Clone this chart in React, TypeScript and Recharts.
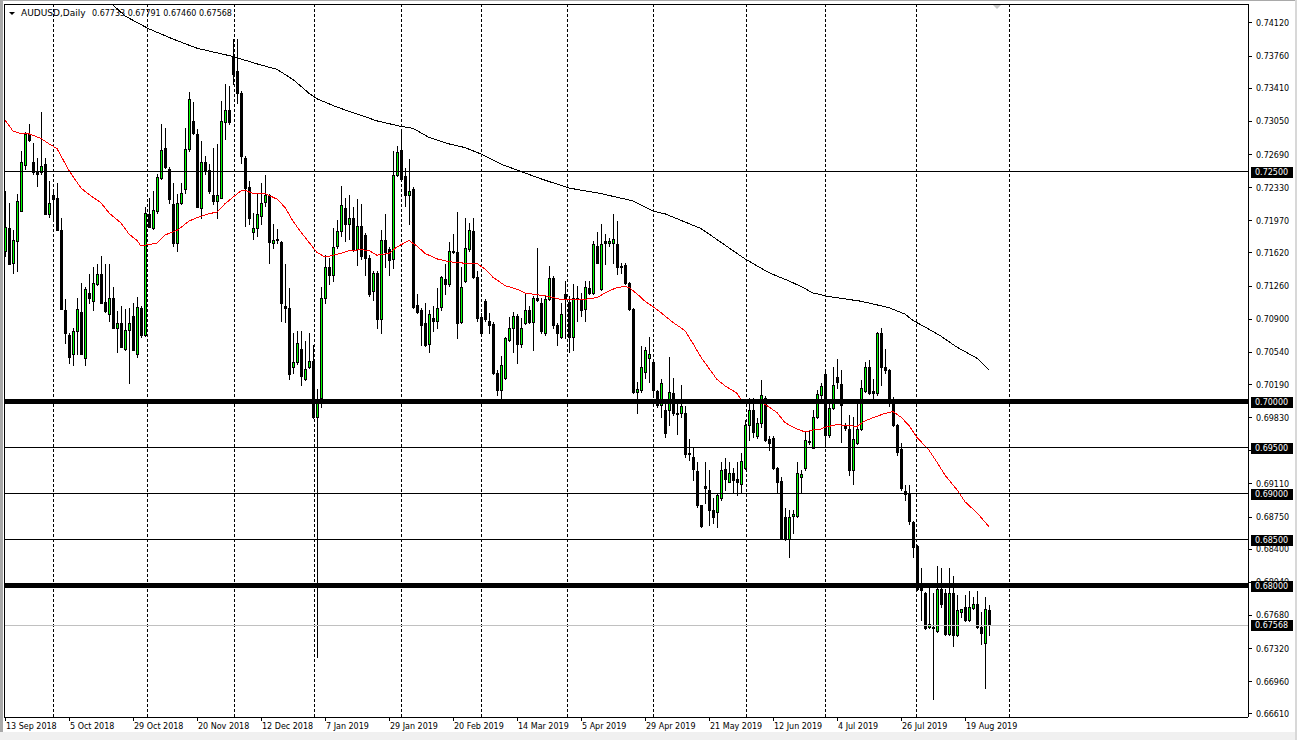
import React from 'react';
import { ComposedChart, Bar, Line, XAxis, YAxis, ReferenceLine } from 'recharts';

// ---- daily OHLC, AUDUSD, 13 Sep 2018 .. 27 Aug 2019 (index 0..246) ----
const opens = [
  .7164,.7189,.7151,.7175,.7207,.7257,.7291,.7260,.7249,.7249,
  .7258,.7204,.7224,.7221,.7186,.7099,.7072,.7052,.7077,.7097,
  .7047,.7118,.7109,.7128,.7139,.7108,.7095,.7112,.7080,.7085,
  .7057,.7078,.7093,.7052,.7102,.7072,.7204,.7189,.7207,.7243,
  .7276,.7253,.7215,.7172,.7216,.7231,.7275,.7305,.7291,.7210,
  .7260,.7252,.7224,.7218,.7221,.7304,.7317,.7376,.7359,.7335,
  .7265,.7233,.7184,.7189,.7202,.7217,.7224,.7172,.7177,.7173,
  .7104,.7102,.7037,.7043,.7057,.7025,.7037,.7044,.6983,.7004,
  .7112,.7146,.7137,.7169,.7185,.7210,.7193,.7200,.7166,.7191,
  .7181,.7156,.7120,.7140,.7090,.7176,.7166,.7155,.7246,.7273,
  .7245,.7225,.7231,.7105,.7100,.7085,.7063,.7091,.7088,.7103,
  .7133,.7128,.7164,.7162,.7086,.7131,.7166,.7185,.7135,.7092,
  .7109,.7087,.7084,.7031,.7013,.7026,.7067,.7080,.7093,.7063,
  .7085,.7100,.7086,.7113,.7107,.7075,.7111,.7134,.7083,.7070,
  .7117,.7108,.7070,.7112,.7110,.7101,.7123,.7118,.7169,.7122,
  .7174,.7172,.7172,.7171,.7147,.7148,.7129,.7101,.7010,.7012,
  .7032,.7047,.7043,.7011,.6996,.6991,.6991,.7009,.6987,.6987,
  .6987,.6944,.6940,.6925,.6887,.6908,.6904,.6882,.6880,.6895,
  .6927,.6913,.6922,.6916,.6910,.6928,.6974,.6991,.6963,.6977,
  .7004,.6959,.6960,.6928,.6914,.6875,.6851,.6876,.6876,.6918,
  .6928,.6957,.6950,.6983,.7007,.7030,.6964,.6993,.7027,.7019,
  .6973,.6970,.6926,.6955,.6970,.7011,.7037,.7011,.7009,.7075,
  .7037,.7034,.6998,.6975,.6948,.6903,.6900,.6869,.6843,.6803,
  .6792,.6755,.6755,.6751,.6796,.6792,.6747,.6792,.6746,.6771,
  .6777,.6763,.6776,.6780,.6755,.6737,.67733,
];
const highs = [
  .7229,.7216,.7186,.7226,.7272,.7293,.7302,.7281,.7265,.7315,
  .7265,.7240,.7231,.7237,.7200,.7111,.7074,.7080,.7112,.7129,
  .7124,.7139,.7146,.7150,.7158,.7150,.7150,.7124,.7098,.7104,
  .7101,.7102,.7107,.7114,.7104,.7211,.7221,.7229,.7247,.7302,
  .7297,.7255,.7237,.7226,.7237,.7297,.7336,.7326,.7296,.7283,
  .7267,.7258,.7276,.7280,.7327,.7345,.7343,.7394,.7394,.7337,
  .7267,.7240,.7205,.7226,.7238,.7246,.7226,.7193,.7188,.7175,
  .7150,.7123,.7074,.7077,.7077,.7066,.7074,.7061,.7014,.7124,
  .7159,.7156,.7189,.7197,.7234,.7221,.7224,.7211,.7220,.7215,
  .7183,.7159,.7142,.7142,.7186,.7204,.7168,.7272,.7278,.7294,
  .7254,.7264,.7233,.7117,.7102,.7107,.7099,.7104,.7123,.7136,
  .7150,.7173,.7182,.7206,.7146,.7200,.7194,.7199,.7142,.7096,
  .7111,.7096,.7086,.7034,.7050,.7070,.7092,.7097,.7095,.7091,
  .7118,.7104,.7115,.7167,.7113,.7115,.7147,.7136,.7085,.7107,
  .7131,.7115,.7128,.7126,.7118,.7131,.7131,.7174,.7184,.7193,
  .7182,.7178,.7204,.7196,.7151,.7151,.7130,.7102,.7021,.7060,
  .7059,.7070,.7045,.7012,.7024,.7001,.7048,.7026,.6998,.7018,
  .6995,.6959,.6949,.6934,.6888,.6934,.6926,.6895,.6901,.6934,
  .6939,.6934,.6928,.6934,.6944,.6980,.7004,.7004,.6982,.7023,
  .7006,.6963,.6963,.6929,.6918,.6884,.6882,.6882,.6934,.6926,
  .6967,.6969,.6991,.7012,.7020,.7034,.7001,.7037,.7046,.7034,
  .6977,.6985,.6983,.6998,.7023,.7043,.7045,.7024,.7076,.7080,
  .7057,.7035,.7005,.6976,.6955,.6909,.6909,.6870,.6844,.6819,
  .6793,.6799,.6792,.6821,.6819,.6796,.6819,.6810,.6790,.6775,
  .6790,.6794,.6787,.6794,.6771,.6788,.67791,
];
const lows = [
  .7158,.7150,.7140,.7142,.7207,.7253,.7283,.7247,.7234,.7247,
  .7204,.7201,.7200,.7186,.7101,.7064,.7042,.7040,.7052,.7052,
  .7040,.7107,.7099,.7127,.7107,.7097,.7088,.7080,.7054,.7059,
  .7056,.7020,.7056,.7048,.7070,.7071,.7190,.7188,.7205,.7242,
  .7254,.7216,.7169,.7164,.7215,.7227,.7272,.7291,.7211,.7199,
  .7247,.7227,.7215,.7199,.7221,.7285,.7302,.7345,.7324,.7259,
  .7191,.7193,.7177,.7180,.7193,.7213,.7151,.7167,.7172,.7088,
  .7086,.7025,.7031,.7041,.7018,.7023,.7036,.6982,.6722,.6994,
  .7107,.7128,.7131,.7167,.7180,.7175,.7177,.7164,.7148,.7155,
  .7137,.7115,.7110,.7080,.7075,.7146,.7137,.7145,.7245,.7242,
  .7213,.7193,.7102,.7096,.7061,.7060,.7054,.7077,.7080,.7099,
  .7117,.7126,.7161,.7069,.7085,.7130,.7164,.7134,.7088,.7073,
  .7088,.7074,.7030,.7007,.7004,.7025,.7066,.7054,.7042,.7059,
  .7084,.7085,.7056,.7109,.7075,.7072,.7110,.7080,.7061,.7069,
  .7069,.7054,.7056,.7088,.7093,.7087,.7117,.7117,.7151,.7121,
  .7150,.7169,.7151,.7139,.7140,.7128,.7100,.7009,.6987,.7010,
  .7026,.7021,.7005,.6994,.6983,.6961,.6974,.6985,.6965,.6983,
  .6940,.6936,.6915,.6885,.6864,.6890,.6866,.6868,.6864,.6893,
  .6904,.6912,.6902,.6898,.6901,.6927,.6958,.6961,.6960,.6972,
  .6957,.6947,.6927,.6901,.6851,.6850,.6831,.6857,.6875,.6902,
  .6926,.6954,.6949,.6982,.7001,.6953,.6961,.6992,.7015,.6956,
  .6969,.6920,.6910,.6954,.6969,.7010,.7008,.7004,.7007,.7018,
  .7031,.6995,.6973,.6942,.6904,.6893,.6867,.6831,.6795,.6762,
  .6753,.6754,.6677,.6750,.6777,.6746,.6746,.6734,.6745,.6766,
  .6761,.6761,.6774,.6754,.6736,.6689,.67460,
];
const closes = [
  .7190,.7150,.7176,.7218,.7260,.7291,.7284,.7249,.7247,.7256,
  .7204,.7216,.7220,.7186,.7101,.7074,.7048,.7077,.7101,.7052,
  .7122,.7112,.7129,.7139,.7107,.7098,.7113,.7080,.7085,.7059,
  .7078,.7085,.7056,.7103,.7072,.7205,.7190,.7208,.7244,.7273,
  .7255,.7220,.7172,.7216,.7227,.7275,.7329,.7292,.7211,.7260,
  .7251,.7229,.7218,.7224,.7305,.7317,.7304,.7356,.7335,.7267,
  .7232,.7199,.7189,.7204,.7216,.7224,.7173,.7176,.7176,.7107,
  .7102,.7030,.7043,.7064,.7028,.7035,.7044,.6983,.7003,.7112,
  .7146,.7137,.7168,.7185,.7214,.7193,.7200,.7166,.7191,.7158,
  .7156,.7117,.7140,.7090,.7176,.7163,.7154,.7246,.7271,.7242,
  .7225,.7229,.7103,.7097,.7083,.7061,.7095,.7087,.7102,.7135,
  .7128,.7164,.7163,.7085,.7124,.7167,.7186,.7135,.7091,.7074,
  .7090,.7083,.7031,.7013,.7040,.7069,.7080,.7093,.7062,.7080,
  .7099,.7086,.7113,.7110,.7077,.7111,.7134,.7083,.7074,.7095,
  .7111,.7070,.7112,.7111,.7100,.7124,.7118,.7171,.7151,.7171,
  .7172,.7174,.7177,.7146,.7146,.7129,.7101,.7010,.7014,.7038,
  .7056,.7052,.7012,.6996,.7020,.6966,.7010,.6987,.6986,.6995,
  .6943,.6943,.6927,.6888,.6865,.6906,.6882,.6875,.6898,.6926,
  .6916,.6922,.6915,.6912,.6935,.6975,.6991,.6967,.6977,.7007,
  .6958,.6955,.6928,.6913,.6852,.6851,.6875,.6878,.6922,.6921,
  .6958,.6956,.6983,.7008,.7017,.6964,.6993,.7018,.7021,.6996,
  .6971,.6926,.6959,.6970,.7015,.7037,.7009,.7009,.7075,.7037,
  .7034,.6999,.6974,.6945,.6906,.6900,.6870,.6842,.6796,.6795,
  .6754,.6758,.6754,.6796,.6780,.6747,.6792,.6746,.6773,.6774,
  .6762,.6777,.6780,.6755,.6748,.6775,.67568,
];

// ---- moving averages: [bar index, value] ----
const ma50Points: [number, number][] = [
  [0,.7306],[2,.7294],[4,.7291],[6,.7291],[9,.7286],[11,.7280],[13,.7275],[14,.7267],[16,.7251],
  [19,.7232],[21,.7225],[24,.7216],[26,.7205],[29,.7194],[31,.7182],[33,.7175],[34,.7169],[35,.7170],
  [38,.7172],[40,.7181],[43,.7186],[46,.7196],[48,.7200],[51,.7204],[53,.7206],[55,.7215],[57,.7222],
  [59,.7229],[60,.7230],[62,.7226],[65,.7226],[68,.7220],[70,.7211],[72,.7196],[74,.7184],[76,.7173],
  [78,.7162],[80,.7157],[82,.7159],[84,.7161],[86,.7164],[89,.7165],[91,.7164],[93,.7159],[96,.7161],
  [98,.7168],[101,.7175],[103,.7169],[105,.7161],[108,.7155],[111,.7152],[113,.7151],[116,.7150],
  [118,.7150],[120,.7144],[122,.7135],[124,.7129],[125,.7126],[128,.7122],[130,.7118],[133,.7116],
  [135,.7115],[137,.7113],[139,.7111],[145,.7111],[148,.7113],[150,.7118],[153,.7124],[155,.7125],
  [156,.7124],[158,.7117],[160,.7109],[163,.7100],[165,.7093],[167,.7086],[170,.7077],[172,.7063],
  [174,.7048],[176,.7036],[178,.7024],[180,.7017],[183,.7009],[184,.7002],[186,.6999],[189,.6998],
  [190,.6997],[193,.6988],[195,.6977],[198,.6970],[200,.6967],[202,.6969],[204,.6970],[205,.6972],
  [208,.6975],[210,.6974],[213,.6973],[215,.6979],[218,.6984],[220,.6987],[222,.6989],[224,.6983],
  [226,.6974],[228,.6961],[231,.6947],[233,.6934],[235,.6920],[238,.6904],[240,.6891],[243,.6879],
  [246,.6864],
];
const ma200Points: [number, number][] = [
  [25,.7439],[27,.7431],[30,.7419],[36,.7405],[42,.7394],[48,.7384],[57,.7375],[63,.7367],[68,.7361],
  [72,.7350],[76,.7335],[78,.7329],[83,.7320],[93,.7305],[99,.7299],[102,.7297],[106,.7287],[111,.7280],
  [115,.7276],[119,.7269],[124,.7258],[134,.7242],[141,.7232],[149,.7226],[157,.7218],[162,.7207],
  [165,.7204],[174,.7188],[185,.7155],[191,.7140],[196,.7131],[199,.7125],[202,.7118],[206,.7114],
  [214,.7109],[221,.7102],[225,.7095],[227,.7088],[230,.7081],[234,.7071],[238,.7059],[243,.7047],
  [246,.7034],
];

// ---- axes / annotations ----
const dateTickIdx = [0,16,32,48,64,80,96,112,128,144,160,176,192,208,224,240];
const dateTickLabels = [
  '13 Sep 2018','5 Oct 2018','29 Oct 2018','20 Nov 2018','12 Dec 2018','7 Jan 2019',
  '29 Jan 2019','20 Feb 2019','14 Mar 2019','5 Apr 2019','29 Apr 2019','21 May 2019',
  '12 Jun 2019','4 Jul 2019','26 Jul 2019','19 Aug 2019',
];
const priceTicks = [
  0.7412,0.7376,0.7341,0.7305,0.7269,0.7233,0.7197,0.7162,0.7126,0.7090,0.7054,
  0.7019,0.6983,0.6947,0.6911,0.6875,0.6840,0.6804,0.6768,0.6732,0.6696,0.6661,
];
const levelsThin = [0.725, 0.695, 0.690, 0.685];
const levelsThick = [0.700, 0.680];
const lastPrice = 0.67568;
const monthSeparators = [12, 35.5, 57.25, 77.25, 99, 119, 140.5, 162, 185.25, 205, 227.75, 251];
const titleSymbol = 'AUDUSD,Daily';
const titleQuotes = '0.67733 0.67791 0.67460 0.67568';

const highlighted = [...levelsThin, ...levelsThick, lastPrice];
const allYTicks = [...priceTicks, ...highlighted];

const data = opens.map((o, i) => ({
  i,
  o,
  h: highs[i],
  l: lows[i],
  c: closes[i],
  range: [lows[i], highs[i]],
  ma50: undefined as number | undefined,
  ma200: undefined as number | undefined,
}));
ma50Points.forEach(([i, v]) => { data[i].ma50 = v; });
ma200Points.forEach(([i, v]) => { data[i].ma200 = v; });

const FONT = '"DejaVu Sans", Verdana, sans-serif';
const AXIS_X = 1248;
const BULL = '#00FF00';

const Candle = (props: any) => {
  const { x, y, width, height, payload } = props;
  if (!payload) return null;
  const { o, h, l, c } = payload;
  const cx = Math.round(x + width / 2);
  const span = h - l || 1e-9;
  const py = (v: number) => y + ((h - v) / span) * height;
  const yH = Math.round(y);
  const yL = Math.round(y + height);
  const yO = Math.round(py(o));
  const yC = Math.round(py(c));
  const top = Math.min(yO, yC);
  const bot = Math.max(yO, yC);
  const bull = c > o;
  return (
    <g>
      <rect x={cx} y={yH} width={1} height={Math.max(1, yL - yH + 1)} fill="#000" />
      <rect x={cx - 1} y={top} width={3} height={bot - top + 1} fill="#000" />
      {bull && bot - top >= 2 && (
        <rect x={cx} y={top + 1} width={1} height={bot - top - 1} fill={BULL} />
      )}
    </g>
  );
};

const PriceTick = (props: any) => {
  const { y, payload, index } = props;
  const v = payload.value as number;
  const label = v.toFixed(5);
  const isHi = index >= priceTicks.length;
  if (isHi) {
    return (
      <g>
        <rect x={AXIS_X + 3} y={Math.round(y) - 5} width={42} height={11} fill="#000" />
        <text x={AXIS_X + 7} y={y + 3} fill="#fff" fontSize={8} fontFamily={FONT}>{label}</text>
      </g>
    );
  }
  return (
    <g>
      <rect x={AXIS_X} y={Math.round(y)} width={4} height={1} fill="#000" />
      <text x={AXIS_X + 8} y={y + 3.5} fill="#000" fontSize={8} fontFamily={FONT}>{label}</text>
    </g>
  );
};

const DateTick = (props: any) => {
  const { x, payload } = props;
  const idx = dateTickIdx.indexOf(payload.value);
  return (
    <g>
      <rect x={Math.round(x)} y={717} width={1} height={4} fill="#000" />
      <text x={Math.round(x) + 1} y={729} fill="#000" fontSize={8} fontFamily={FONT}>
        {dateTickLabels[idx]}
      </text>
    </g>
  );
};

export default function App() {
  return (
    <div style={{ position: 'absolute', left: 0, top: 0, width: 1297, height: 740, background: '#fff', overflow: 'hidden' }}>
      <ComposedChart
        width={1297}
        height={740}
        data={data}
        margin={{ top: 4, right: 0, bottom: 0, left: 4 }}
        style={{ shapeRendering: 'crispEdges' }}
      >
        <XAxis
          dataKey="i"
          type="number"
          domain={[-0.25, 310.75]}
          allowDataOverflow
          ticks={dateTickIdx}
          interval={0}
          tickLine={false}
          axisLine={{ stroke: '#000' }}
          tick={<DateTick />}
          height={23}
        />
        <YAxis
          orientation="right"
          type="number"
          domain={[0.665707, 0.743207]}
          allowDataOverflow
          ticks={allYTicks}
          interval={0}
          tickLine={false}
          axisLine={{ stroke: '#000' }}
          tick={<PriceTick />}
          width={49}
        />
        {monthSeparators.map((m) => (
          <ReferenceLine key={'m' + m} x={m} stroke="#000" strokeDasharray="3 2" />
        ))}
        <ReferenceLine y={lastPrice} stroke="#c0c0c0" strokeWidth={1} />
        <Bar dataKey="range" shape={<Candle />} barSize={3} isAnimationActive={false} />
        <Line dataKey="ma200" type="linear" stroke="#000" strokeWidth={1} dot={false} activeDot={false} connectNulls isAnimationActive={false} />
        <Line dataKey="ma50" type="linear" stroke="#ff0000" strokeWidth={1} dot={false} activeDot={false} connectNulls isAnimationActive={false} />
        {levelsThin.map((v) => (
          <ReferenceLine key={'t' + v} y={v} stroke="#000" strokeWidth={1} />
        ))}
        {levelsThick.map((v) => (
          <ReferenceLine key={'k' + v} y={v} stroke="#000" strokeWidth={5} />
        ))}
      </ComposedChart>
      {/* window chrome / frame */}
      <div style={{ position: 'absolute', left: 0, top: 0, width: 3, height: 740, background: '#a9a9a9' }} />
      <div style={{ position: 'absolute', left: 0, top: 0, width: 1297, height: 1, background: '#a9a9a9' }} />
      <div style={{ position: 'absolute', left: 0, top: 732, width: 1297, height: 8, background: '#f0f0f0' }} />
      <div style={{ position: 'absolute', left: 1295, top: 0, width: 2, height: 740, background: '#d8d8d8' }} />
      <div style={{ position: 'absolute', left: 4, top: 4, width: 1, height: 713, background: '#000' }} />
      <div style={{ position: 'absolute', left: 4, top: 4, width: 1244, height: 1, background: '#000' }} />
      <svg style={{ position: 'absolute', left: 0, top: 0 }} width={1297} height={30}>
        <polygon points="9,12 15,12 12,15" fill="#000" />
        <polygon points="993,5 1001,5 997,9" fill="#c8c8c8" />
        <text x={21} y={16} fontSize={9} fontFamily={FONT} fill="#000">{titleSymbol}</text>
        <text x={92} y={16} fontSize={8} fontFamily={FONT} fill="#000">{titleQuotes}</text>
      </svg>
    </div>
  );
}
